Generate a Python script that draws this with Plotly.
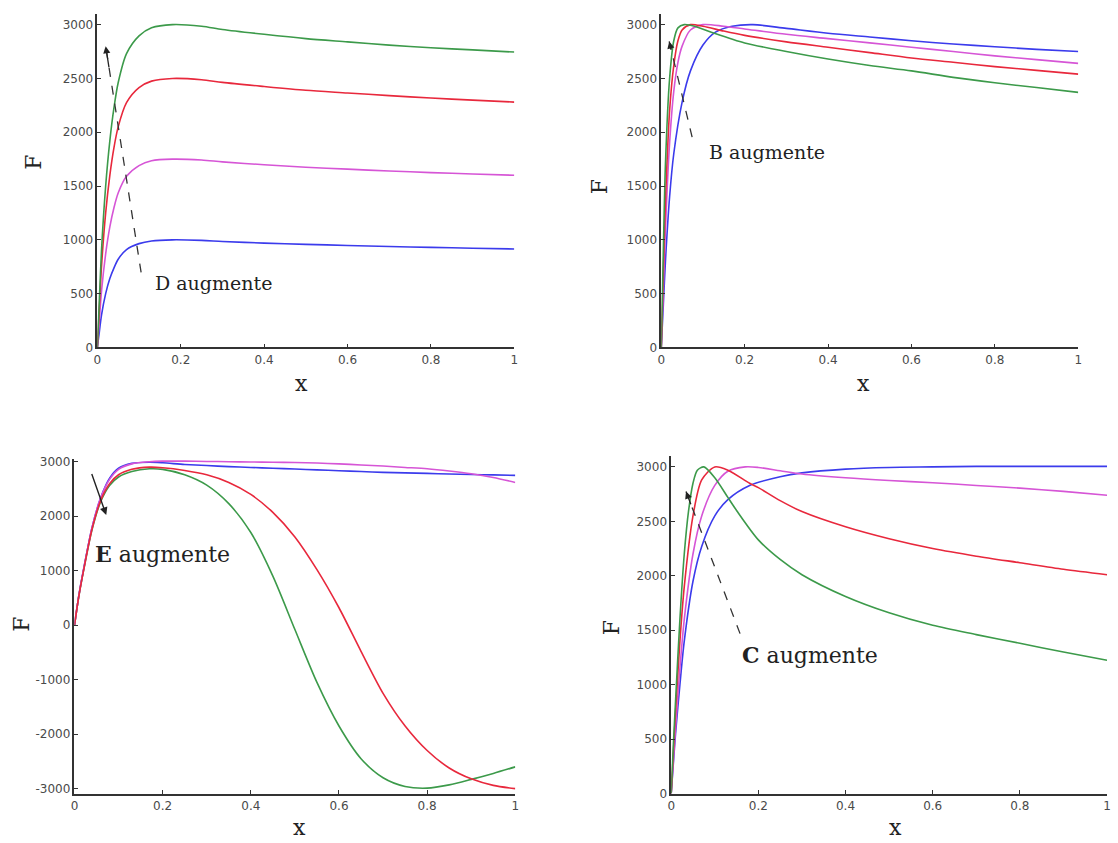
import plotly.graph_objects as go

# ---------------- data ----------------
x_ticks = [0, 0.2, 0.4, 0.6, 0.8, 1]
x_tick_labels = ["0", "0.2", "0.4", "0.6", "0.8", "1"]
y_ticks_pos = [0, 500, 1000, 1500, 2000, 2500, 3000]
y_labels_pos = ["0", "500", "1000", "1500", "2000", "2500", "3000"]
y_ticks_e = [-3000, -2000, -1000, 0, 1000, 2000, 3000]
y_labels_e = ["-3000", "-2000", "-1000", "0", "1000", "2000", "3000"]

# Panel D (top-left)
d_x = [0, 0.005, 0.01, 0.02, 0.03, 0.04, 0.05, 0.07, 0.1, 0.13, 0.18, 0.25, 0.3, 0.4, 0.5, 0.6, 0.7, 0.8, 0.9, 1.0]
d_green = [0, 450, 900, 1500, 1920, 2230, 2460, 2730, 2895, 2970, 3000, 2985, 2955, 2910, 2870, 2840, 2810, 2785, 2765, 2745]
d_red = [0, 380, 750, 1250, 1600, 1860, 2050, 2275, 2415, 2475, 2500, 2488, 2463, 2425, 2390, 2365, 2340, 2318, 2298, 2280]
d_magenta = [0, 260, 520, 870, 1120, 1300, 1435, 1590, 1690, 1735, 1750, 1742, 1725, 1698, 1675, 1657, 1640, 1625, 1612, 1600]
d_blue = [0, 150, 300, 500, 640, 740, 820, 910, 965, 990, 1000, 995, 985, 970, 958, 948, 938, 930, 922, 915]

# Panel B (top-right)
b_x_green = [0, 0.005, 0.01, 0.02, 0.03, 0.04, 0.055, 0.08, 0.12, 0.2, 0.3, 0.4, 0.5, 0.6, 0.7, 0.8, 0.9, 1.0]
b_green = [0, 900, 1700, 2500, 2850, 2970, 3000, 2985, 2930, 2830, 2750, 2680, 2620, 2570, 2510, 2460, 2415, 2370]
b_x_mid = [0, 0.005, 0.01, 0.02, 0.03, 0.04, 0.05, 0.07, 0.1, 0.15, 0.2, 0.3, 0.4, 0.5, 0.6, 0.7, 0.8, 0.9, 1.0]
b_red = [0, 700, 1350, 2200, 2620, 2850, 2950, 3000, 2985, 2940, 2900, 2840, 2790, 2740, 2690, 2650, 2610, 2575, 2540]
b_magenta = [0, 550, 1100, 1900, 2380, 2650, 2800, 2950, 3000, 2985, 2960, 2910, 2870, 2830, 2790, 2750, 2710, 2675, 2640]
b_x_blue = [0, 0.005, 0.01, 0.02, 0.03, 0.05, 0.07, 0.1, 0.13, 0.17, 0.22, 0.3, 0.4, 0.5, 0.6, 0.7, 0.8, 0.9, 1.0]
b_blue = [0, 400, 800, 1400, 1800, 2280, 2570, 2810, 2930, 2985, 3000, 2965, 2920, 2885, 2850, 2820, 2795, 2770, 2750]

# Panel E (bottom-left)
e_x = [0, 0.01, 0.02, 0.04, 0.06, 0.08, 0.1, 0.13, 0.17, 0.2, 0.25, 0.3, 0.35, 0.4, 0.45, 0.5, 0.55, 0.6, 0.65, 0.7, 0.75, 0.8, 0.85, 0.9, 0.95, 1.0]
e_blue = [0, 550, 1000, 1800, 2350, 2700, 2880, 2970, 2990, 2980, 2950, 2930, 2910, 2895, 2880, 2865, 2850, 2835, 2820, 2805, 2795, 2785, 2775, 2765, 2758, 2750]
e_magenta = [0, 550, 1000, 1800, 2350, 2680, 2860, 2960, 3000, 3010, 3010, 3005, 3000, 2995, 2990, 2985, 2975, 2960, 2940, 2920, 2895, 2870, 2830, 2780, 2710, 2620]
e_red = [0, 540, 980, 1770, 2300, 2600, 2760, 2860, 2900, 2890, 2840, 2760, 2620, 2400, 2070, 1620, 1020, 320, -480, -1250, -1850, -2300, -2620, -2820, -2940, -3000]
e_green = [0, 540, 980, 1760, 2280, 2570, 2720, 2820, 2870, 2860, 2760, 2570, 2230, 1700, 900, -80, -1050, -1850, -2450, -2800, -2960, -2990, -2930, -2830, -2720, -2600]

# Panel C (bottom-right)
c_x_green = [0, 0.005, 0.01, 0.02, 0.03, 0.04, 0.05, 0.06, 0.075, 0.1, 0.13, 0.15, 0.2, 0.25, 0.3, 0.4, 0.5, 0.6, 0.7, 0.8, 0.9, 1.0]
c_green = [0, 450, 850, 1600, 2200, 2600, 2850, 2970, 3000, 2900, 2720, 2600, 2330, 2150, 2010, 1810, 1660, 1545, 1460, 1380, 1300, 1225]
c_x_red = [0, 0.005, 0.01, 0.02, 0.03, 0.05, 0.07, 0.1, 0.13, 0.18, 0.2, 0.25, 0.3, 0.4, 0.5, 0.6, 0.7, 0.8, 0.9, 1.0]
c_red = [0, 380, 750, 1400, 1900, 2550, 2880, 3000, 2970, 2850, 2810, 2690, 2590, 2450, 2340, 2250, 2180, 2120, 2060, 2010]
c_x_magenta = [0, 0.005, 0.01, 0.02, 0.03, 0.05, 0.07, 0.1, 0.13, 0.17, 0.2, 0.25, 0.3, 0.4, 0.5, 0.6, 0.7, 0.8, 0.9, 1.0]
c_magenta = [0, 300, 600, 1150, 1600, 2200, 2550, 2830, 2960, 3000, 2995, 2965, 2935, 2900, 2875, 2855, 2830, 2805, 2775, 2740]
c_x_blue = [0, 0.005, 0.01, 0.02, 0.03, 0.05, 0.07, 0.1, 0.13, 0.18, 0.25, 0.3, 0.4, 0.5, 0.6, 0.7, 0.8, 0.9, 1.0]
c_blue = [0, 280, 550, 1000, 1400, 1950, 2270, 2550, 2700, 2830, 2910, 2945, 2980, 2995, 3000, 3005, 3005, 3005, 3005]

# ---------------- styles ----------------
GREEN = "#3c9a4a"
RED = "#e8283c"
MAGENTA = "#d655d6"
BLUE = "#3b3bec"
LW = 1.6

fig = go.Figure()

def add(x, y, color, ax):
    fig.add_trace(go.Scatter(x=x, y=y, mode="lines",
                             line=dict(color=color, width=LW, shape="spline", smoothing=0.8),
                             xaxis="x" + ax, yaxis="y" + ax, showlegend=False, hoverinfo="skip"))

add(d_x, d_blue, BLUE, "")
add(d_x, d_magenta, MAGENTA, "")
add(d_x, d_red, RED, "")
add(d_x, d_green, GREEN, "")
add(b_x_blue, b_blue, BLUE, "2")
add(b_x_mid, b_magenta, MAGENTA, "2")
add(b_x_mid, b_red, RED, "2")
add(b_x_green, b_green, GREEN, "2")
add(e_x, e_blue, BLUE, "3")
add(e_x, e_green, GREEN, "3")
add(e_x, e_magenta, MAGENTA, "3")
add(e_x, e_red, RED, "3")
add(c_x_blue, c_blue, BLUE, "4")
add(c_x_magenta, c_magenta, MAGENTA, "4")
add(c_x_red, c_red, RED, "4")
add(c_x_green, c_green, GREEN, "4")

W, H = 1118, 843
AX = "#333333"
tickfont = dict(family="DejaVu Sans", size=12, color="#4a4a4a")

def xaxis(dom, anchor):
    return dict(domain=dom, anchor=anchor, range=[0, 1], tickvals=x_ticks, ticktext=x_tick_labels,
                ticks="inside", ticklen=4, tickcolor=AX, showline=True, linecolor=AX, linewidth=1.5,
                showgrid=False, zeroline=False, tickfont=tickfont)

def yaxis(dom, anchor, rng, tv, tt):
    return dict(domain=dom, anchor=anchor, range=rng, tickvals=tv, ticktext=tt,
                ticks="inside", ticklen=4, tickcolor=AX, showline=True, linecolor=AX, linewidth=1.5,
                showgrid=False, zeroline=False, tickfont=tickfont)

top_dom = [1 - 348 / H, 1 - 10 / H]
bl_dom = [1 - 800 / H, 1 - 461 / H]
br_dom = [1 - 800 / H, 1 - 458 / H]

fig.update_layout(
    width=W, height=H, margin=dict(l=0, r=0, t=0, b=0),
    paper_bgcolor="white", plot_bgcolor="white",
    xaxis=xaxis([94 / W, 514 / W], "y"),
    yaxis=yaxis(top_dom, "x", [0, 3100], y_ticks_pos, y_labels_pos),
    xaxis2=xaxis([662 / W, 1082 / W], "y2"),
    yaxis2=yaxis(top_dom, "x2", [0, 3100], y_ticks_pos, y_labels_pos),
    xaxis3=xaxis([71 / W, 515 / W], "y3"),
    yaxis3=yaxis(bl_dom, "x3", [-3090, 3050], y_ticks_e, y_labels_e),
    xaxis4=xaxis([672 / W, 1111 / W], "y4"),
    yaxis4=yaxis(br_dom, "x4", [0, 3100], y_ticks_pos, y_labels_pos),
)

serif = "DejaVu Serif"
ann = []
for (px, py) in [(300, 385), (866, 385), (298, 834), (898, 834)]:
    ann.append(dict(text="x", x=px / W, y=1 - py / H, xref="paper", yref="paper", showarrow=False,
                    xanchor="center", yanchor="middle",
                    font=dict(family=serif, size=22, color="#222")))
for (px, py) in [(30, 160), (600, 185), (18, 628), (612, 632)]:
    ann.append(dict(text="F", x=px / W, y=1 - py / H, xref="paper", yref="paper", showarrow=False,
                    xanchor="center", yanchor="middle",
                    textangle=-90, font=dict(family=serif, size=22, color="#222")))

ann.append(dict(text="D augmente", x=0.133, y=596, xref="x", yref="y", xanchor="left", yanchor="middle",
                showarrow=False, font=dict(family=serif, size=19, color="#222")))
ann.append(dict(text="B augmente", x=0.11, y=1817, xref="x2", yref="y2", xanchor="left", yanchor="middle",
                showarrow=False, font=dict(family=serif, size=19, color="#222")))
ann.append(dict(text="<b>E</b> augmente", x=0.043, y=1300, xref="x3", yref="y3", xanchor="left", yanchor="middle",
                showarrow=False, font=dict(family=serif, size=22, color="#222")))
ann.append(dict(text="<b>C</b> augmente", x=0.158, y=1270, xref="x4", yref="y4", xanchor="left", yanchor="middle",
                showarrow=False, font=dict(family=serif, size=22, color="#222")))

shapes = []
def dashed_arrow(xr, yr, x0, y0, x1, y1):
    shapes.append(dict(type="line", xref=xr, yref=yr, x0=x0, y0=y0, x1=x1, y1=y1,
                       line=dict(color="#333", width=1.3, dash="dash")))
    fx = x0 + (x1 - x0) * 0.9
    fy = y0 + (y1 - y0) * 0.9
    ann.append(dict(x=x1, y=y1, ax=fx, ay=fy, xref=xr, yref=yr, axref=xr, ayref=yr, text="",
                    showarrow=True, arrowhead=2, arrowsize=1.1, arrowwidth=1.3, arrowcolor="#222"))

dashed_arrow("x", "y", 0.105, 697, 0.02, 2800)
dashed_arrow("x2", "y2", 0.074, 1954, 0.019, 2844)
dashed_arrow("x4", "y4", 0.158, 1469, 0.034, 2774)
ann.append(dict(x=0.072, y=2021, ax=0.038, ay=2800, xref="x3", yref="y3", axref="x3", ayref="y3", text="",
                showarrow=True, arrowhead=2, arrowsize=1.1, arrowwidth=1.4, arrowcolor="#222"))

fig.update_layout(annotations=ann, shapes=shapes)
fig.write_html("out.html", config={"displayModeBar": False},
               post_script="document.body.style.margin='0';document.body.style.overflow='hidden';")
